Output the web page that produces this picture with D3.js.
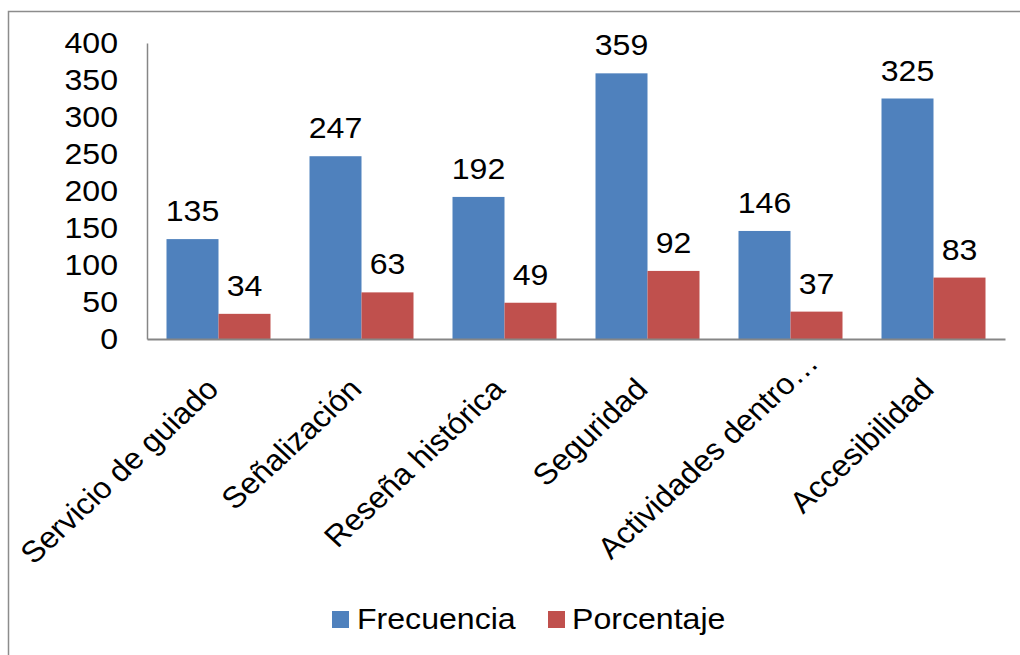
<!DOCTYPE html>
<html>
<head>
<meta charset="utf-8">
<script src="https://cdn.jsdelivr.net/npm/d3@7"></script>
<style>
  html, body { margin: 0; padding: 0; background: #fff; }
  svg { display: block; font-family: "Liberation Sans", Arial, sans-serif; }
</style>
</head>
<body>
<svg id="chart" width="1020" height="655"></svg>
<script>
const categories = ["Servicio de guiado", "Señalización", "Reseña histórica", "Seguridad", "Actividades dentro…", "Accesibilidad"];
const seriesNames = ["Frecuencia", "Porcentaje"];
const frecuencia = [135, 247, 192, 359, 146, 325];
const porcentaje = [34, 63, 49, 92, 37, 83];
const yTicks = [0, 50, 100, 150, 200, 250, 300, 350, 400];
const colors = ["#4F81BD", "#C0504D"];

const svg = d3.select("#chart");
const W = 1020, H = 655;
const FS = 30;
const SX = 1.07; // horizontal stretch of the original rendering

// outer border (right/bottom extend beyond view)
svg.append("rect")
  .attr("x", 8.5).attr("y", 11.5)
  .attr("width", W + 20).attr("height", H + 20)
  .attr("fill", "#fff")
  .attr("stroke", "#8c8c8c").attr("stroke-width", 1.5);

const x0 = d3.scaleBand().domain(categories).range([147, 1005]).paddingInner(0).paddingOuter(0);
const x1 = d3.scaleBand().domain(seriesNames).range([0, x0.bandwidth()]).paddingInner(0).paddingOuter(0.375);
const y = d3.scaleLinear().domain([0, 400]).range([339, 43]);

const data = categories.map((c, i) => ({ cat: c, values: [frecuencia[i], porcentaje[i]] }));

// bars
const groups = svg.append("g").selectAll("g").data(data).join("g")
  .attr("transform", d => `translate(${x0(d.cat)},0)`);
groups.selectAll("rect").data(d => d.values.map((v, j) => ({ s: seriesNames[j], v, j })))
  .join("rect")
  .attr("x", d => x1(d.s))
  .attr("y", d => y(d.v))
  .attr("width", x1.bandwidth())
  .attr("height", d => y(0) - y(d.v))
  .attr("fill", d => colors[d.j]);

// data labels
groups.selectAll("text").data(d => d.values.map((v, j) => ({ s: seriesNames[j], v, j })))
  .join("text")
  .attr("transform", d => `translate(${x1(d.s) + x1.bandwidth() / 2},${y(d.v) - 18}) scale(${SX},1)`)
  .attr("text-anchor", "middle")
  .attr("font-size", FS)
  .attr("fill", "#000")
  .text(d => d.v);

// y axis
const yAxis = d3.axisLeft(y).tickValues(yTicks).tickSize(0).tickPadding(29);
const gy = svg.append("g").attr("transform", "translate(147,0)").call(yAxis);
gy.select(".domain").attr("stroke", "#868686").attr("stroke-width", 1.5);
gy.selectAll(".tick text")
  .attr("x", 0)
  .attr("transform", `translate(-29,0) scale(${SX},1)`)
  .attr("font-size", FS).attr("fill", "#000")
  .attr("font-family", "'Liberation Sans', Arial, sans-serif");

// x axis
const xAxis = d3.axisBottom(x0).tickSize(0).tickFormat("");
const gx = svg.append("g").attr("transform", "translate(0,339)").call(xAxis);
gx.select(".domain").attr("stroke", "#868686").attr("stroke-width", 2);

// category labels rotated -45
const catG = svg.append("g");
categories.forEach(c => {
  const trunc = c.endsWith("…");
  const main = trunc ? c.slice(0, -1) : c;
  const cx = x0(c) + x0.bandwidth() / 2 + 2 + (trunc ? 5 : 0);
  const cy = 391 - (trunc ? 5 : 0);
  const tf = `translate(${cx},${cy}) scale(${SX},1) rotate(-45)`;
  catG.append("text")
    .attr("transform", tf)
    .attr("text-anchor", "end")
    .attr("font-size", FS)
    .attr("fill", "#000")
    .text(main);
  if (trunc) {
    catG.append("text")
      .attr("transform", tf)
      .attr("text-anchor", "start")
      .attr("font-size", FS)
      .attr("fill", "#000")
      .text("…");
  }
});

// legend
const legendItems = [{ name: seriesNames[0], c: colors[0], x: 332, tx: 357 }, { name: seriesNames[1], c: colors[1], x: 548, tx: 572 }];
const lg = svg.append("g");
legendItems.forEach(it => {
  lg.append("rect").attr("x", it.x).attr("y", 611).attr("width", 17).attr("height", 17).attr("fill", it.c);
  lg.append("text").attr("transform", `translate(${it.tx},629) scale(${SX},1)`)
    .attr("font-size", FS).attr("fill", "#000").text(it.name);
});
</script>
</body>
</html>
